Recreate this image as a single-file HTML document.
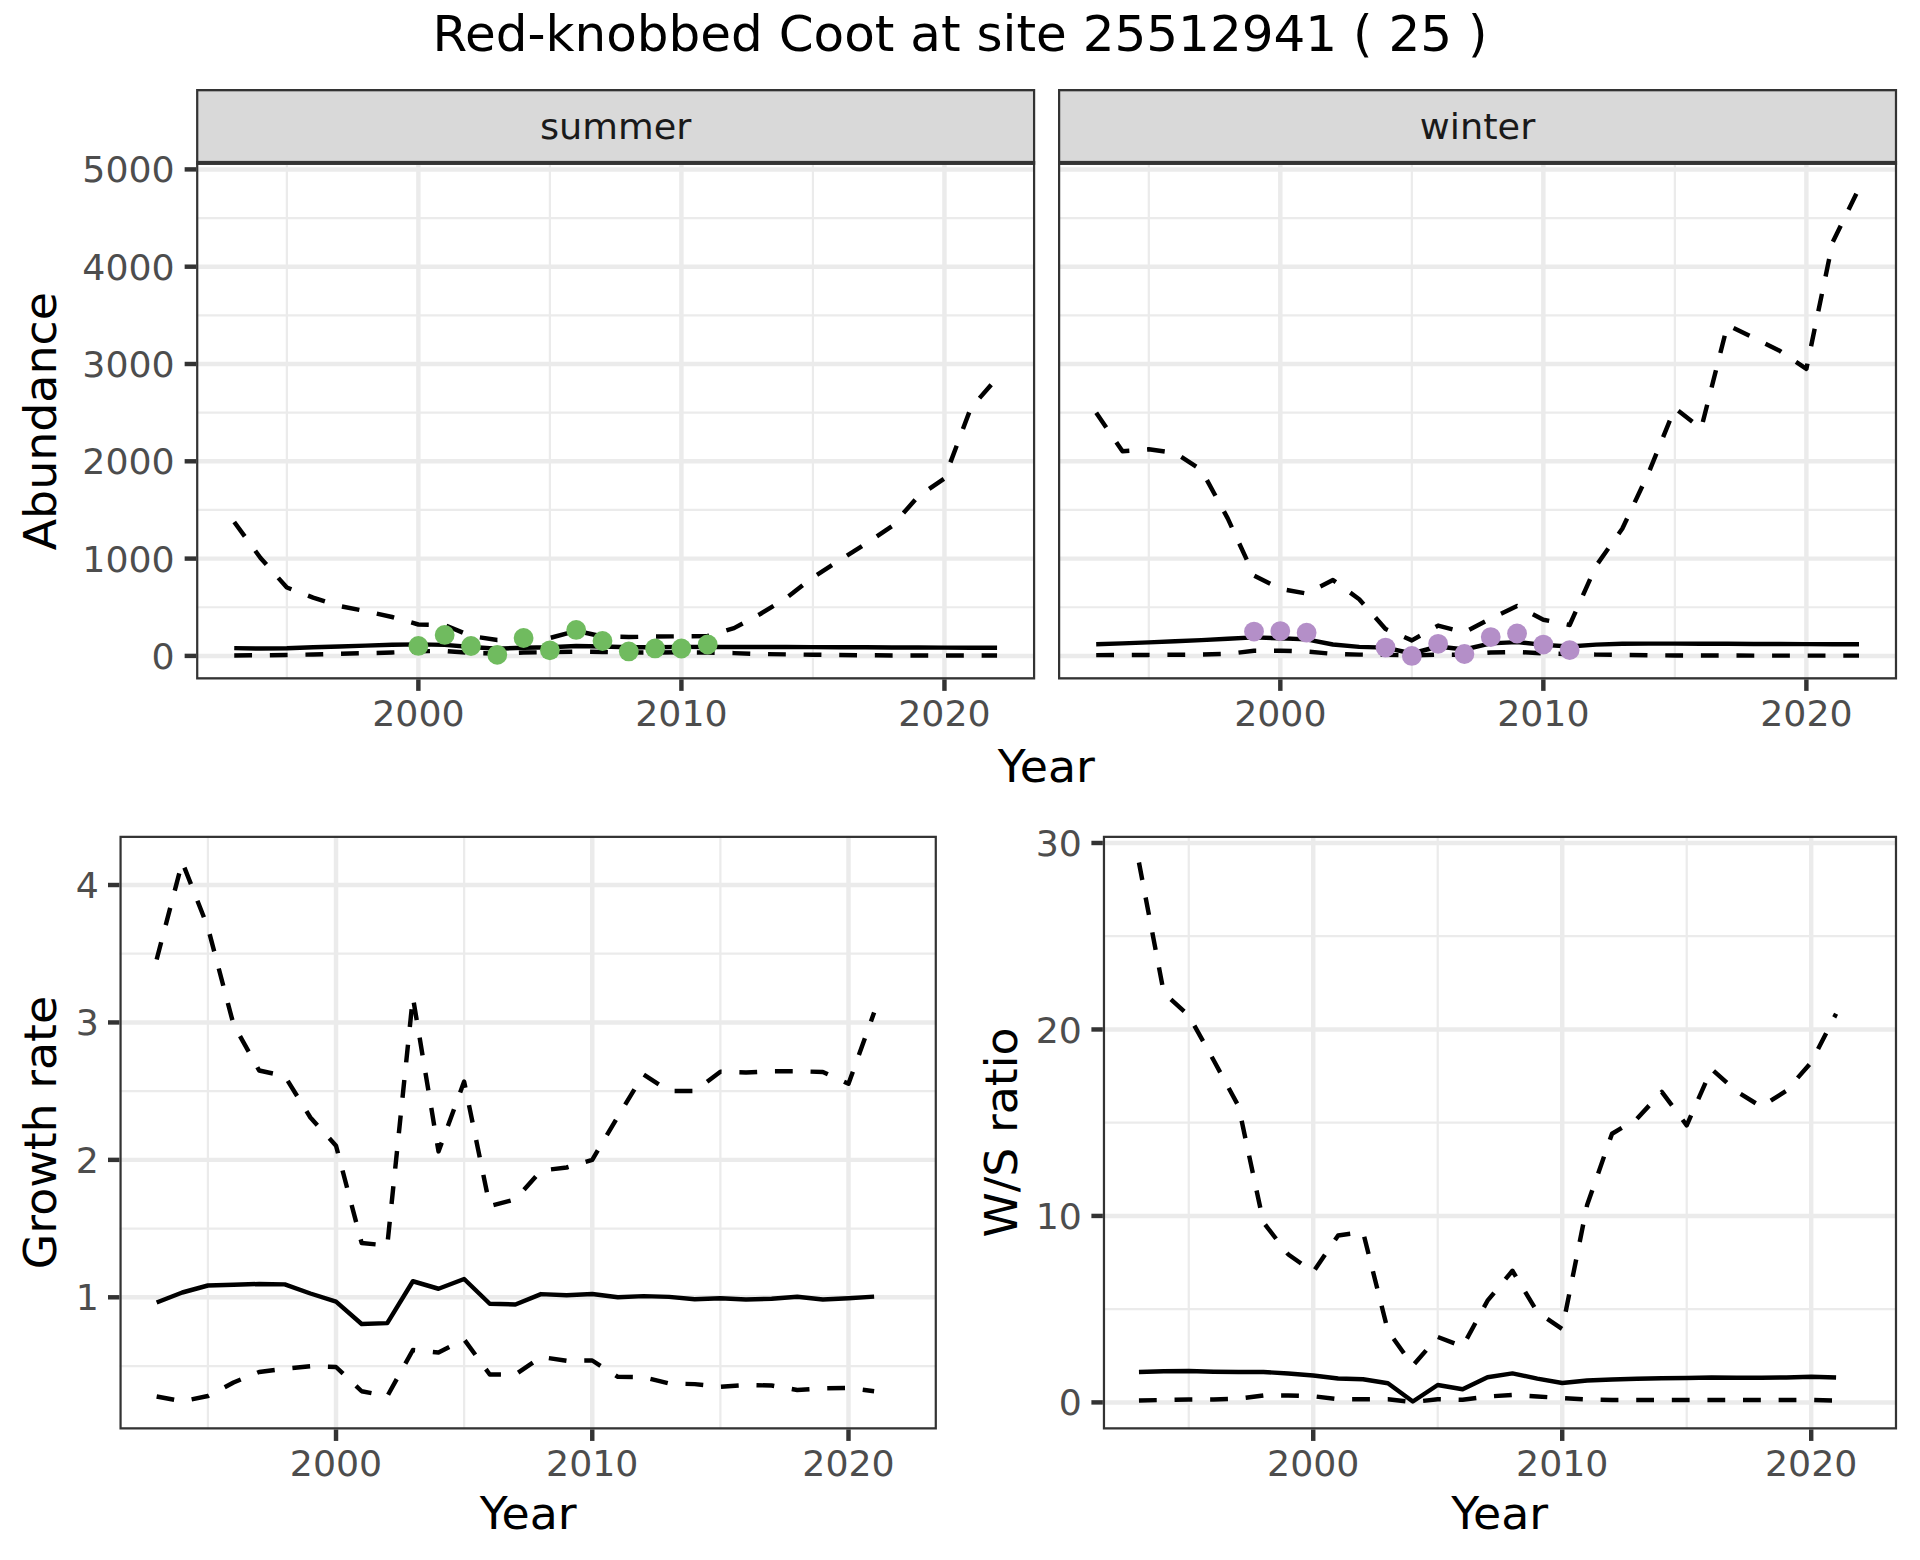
<!DOCTYPE html>
<html lang="en">
<head>
<meta charset="utf-8">
<title>Red-knobbed Coot at site 25512941 ( 25 )</title>
<style>
html,body{margin:0;padding:0;background:#fff;}
body{width:1920px;height:1560px;overflow:hidden;}
svg{display:block;font-family:'DejaVu Sans','Liberation Sans',sans-serif;}
svg text{font-family:'DejaVu Sans','Liberation Sans',sans-serif;}
</style>
</head>
<body>
<svg width="1920" height="1560" viewBox="0 0 1920 1560">
<defs>
<clipPath id="cp1"><rect x="196.1" y="162.8" width="839.1" height="516.6"/></clipPath>
<clipPath id="sp1"><rect x="196.1" y="89.1" width="839.1" height="73.7"/></clipPath>
<clipPath id="cp2"><rect x="1058" y="162.8" width="839.1" height="516.6"/></clipPath>
<clipPath id="sp2"><rect x="1058" y="89.1" width="839.1" height="73.7"/></clipPath>
<clipPath id="cp3"><rect x="119.45" y="835.75" width="817.45" height="593.7"/></clipPath>
<clipPath id="cp4"><rect x="1102.85" y="835.75" width="794.25" height="593.7"/></clipPath>
</defs>
<rect x="0" y="0" width="1920" height="1560" fill="#fff"/>
<g clip-path="url(#cp1)">
<rect x="196.1" y="162.8" width="839.1" height="516.6" fill="#fff"/>
<line x1="196.1" x2="1035.2" y1="607.25" y2="607.25" stroke="#ebebeb" stroke-width="2.22"/>
<line x1="196.1" x2="1035.2" y1="509.95" y2="509.95" stroke="#ebebeb" stroke-width="2.22"/>
<line x1="196.1" x2="1035.2" y1="412.65" y2="412.65" stroke="#ebebeb" stroke-width="2.22"/>
<line x1="196.1" x2="1035.2" y1="315.35" y2="315.35" stroke="#ebebeb" stroke-width="2.22"/>
<line x1="196.1" x2="1035.2" y1="218.05" y2="218.05" stroke="#ebebeb" stroke-width="2.22"/>
<line x1="286.85" x2="286.85" y1="162.8" y2="679.4" stroke="#ebebeb" stroke-width="2.22"/>
<line x1="549.89" x2="549.89" y1="162.8" y2="679.4" stroke="#ebebeb" stroke-width="2.22"/>
<line x1="812.93" x2="812.93" y1="162.8" y2="679.4" stroke="#ebebeb" stroke-width="2.22"/>
<line x1="196.1" x2="1035.2" y1="655.9" y2="655.9" stroke="#ebebeb" stroke-width="4.45"/>
<line x1="196.1" x2="1035.2" y1="558.6" y2="558.6" stroke="#ebebeb" stroke-width="4.45"/>
<line x1="196.1" x2="1035.2" y1="461.3" y2="461.3" stroke="#ebebeb" stroke-width="4.45"/>
<line x1="196.1" x2="1035.2" y1="364" y2="364" stroke="#ebebeb" stroke-width="4.45"/>
<line x1="196.1" x2="1035.2" y1="266.7" y2="266.7" stroke="#ebebeb" stroke-width="4.45"/>
<line x1="196.1" x2="1035.2" y1="169.4" y2="169.4" stroke="#ebebeb" stroke-width="4.45"/>
<line x1="418.37" x2="418.37" y1="162.8" y2="679.4" stroke="#ebebeb" stroke-width="4.45"/>
<line x1="681.41" x2="681.41" y1="162.8" y2="679.4" stroke="#ebebeb" stroke-width="4.45"/>
<line x1="944.45" x2="944.45" y1="162.8" y2="679.4" stroke="#ebebeb" stroke-width="4.45"/>
<polyline points="234.24,648.1 260.54,648.5 286.85,648.25 313.15,647.25 339.46,646.5 365.76,645.6 392.06,644.75 418.37,644.4 444.67,644.9 470.98,647 497.28,648.75 523.58,647.75 549.89,647.25 576.19,646 602.5,646.5 628.8,647.25 655.1,647.25 681.41,646.9 707.71,646.9 734.02,646.9 760.32,646.95 786.62,647 812.93,647.1 839.23,647.2 865.54,647.3 891.84,647.4 918.14,647.5 944.45,647.6 970.75,647.7 997.06,647.8" fill="none" stroke="#000" stroke-width="4.45" stroke-linejoin="round" stroke-linecap="butt"/>
<polyline points="234.24,655.4 260.54,655.3 286.85,655 313.15,654.5 339.46,653.75 365.76,653.2 392.06,652.5 418.37,651.25 444.67,651 470.98,653 497.28,653.5 523.58,652.5 549.89,652.2 576.19,651.6 602.5,652 628.8,652.5 655.1,652.5 681.41,652.3 707.71,652.5 734.02,653.1 760.32,654 786.62,654.4 812.93,654.75 839.23,655 865.54,655.25 891.84,655.4 918.14,655.4 944.45,655.4 970.75,655.4 997.06,655.4" fill="none" stroke="#000" stroke-width="4.45" stroke-linejoin="round" stroke-linecap="butt" stroke-dasharray="17.8 17.8"/>
<polyline points="234.24,522 260.54,558 286.85,587.5 313.15,597.6 339.46,606 365.76,611.2 392.06,617 418.37,624.5 444.67,625 470.98,636 497.28,640 523.58,639 549.89,638 576.19,630.75 602.5,636.5 628.8,637 655.1,636.6 681.41,636.25 707.71,636 734.02,628.1 760.32,614 786.62,597.75 812.93,577.4 839.23,560.6 865.54,543.8 891.84,526.3 918.14,496.4 944.45,478.4 970.75,408.2 997.06,378" fill="none" stroke="#000" stroke-width="4.45" stroke-linejoin="round" stroke-linecap="butt" stroke-dasharray="17.8 17.8"/>
<circle cx="418.37" cy="645.9" r="9.9" fill="#70bb5f"/>
<circle cx="444.67" cy="634.9" r="9.9" fill="#70bb5f"/>
<circle cx="470.98" cy="646" r="9.9" fill="#70bb5f"/>
<circle cx="497.28" cy="654.8" r="9.9" fill="#70bb5f"/>
<circle cx="523.58" cy="638" r="9.9" fill="#70bb5f"/>
<circle cx="549.89" cy="650.3" r="9.9" fill="#70bb5f"/>
<circle cx="576.19" cy="629.9" r="9.9" fill="#70bb5f"/>
<circle cx="602.5" cy="641" r="9.9" fill="#70bb5f"/>
<circle cx="628.8" cy="651.4" r="9.9" fill="#70bb5f"/>
<circle cx="655.1" cy="648.4" r="9.9" fill="#70bb5f"/>
<circle cx="681.41" cy="648.5" r="9.9" fill="#70bb5f"/>
<circle cx="707.71" cy="644.5" r="9.9" fill="#70bb5f"/>
<rect x="196.1" y="162.6" width="839.1" height="516.8" fill="none" stroke="#333333" stroke-width="4.45"/>
</g>
<g clip-path="url(#sp1)"><rect x="196.1" y="89.1" width="839.1" height="74" fill="#d9d9d9" stroke="#333333" stroke-width="4.45"/></g>
<text transform="translate(615.65 139) scale(1 0.975)" text-anchor="middle" font-size="36.67" fill="#1a1a1a">summer</text>
<line x1="196.1" x2="1035.2" y1="162.85" y2="162.85" stroke="#333333" stroke-width="3.9"/>
<line x1="184.64" x2="196.1" y1="655.9" y2="655.9" stroke="#333333" stroke-width="4.45"/>
<text transform="translate(174.67 668.95) scale(0.99 0.96)" text-anchor="end" font-size="36.67" fill="#4d4d4d">0</text>
<line x1="184.64" x2="196.1" y1="558.6" y2="558.6" stroke="#333333" stroke-width="4.45"/>
<text transform="translate(174.67 571.65) scale(0.99 0.96)" text-anchor="end" font-size="36.67" fill="#4d4d4d">1000</text>
<line x1="184.64" x2="196.1" y1="461.3" y2="461.3" stroke="#333333" stroke-width="4.45"/>
<text transform="translate(174.67 474.35) scale(0.99 0.96)" text-anchor="end" font-size="36.67" fill="#4d4d4d">2000</text>
<line x1="184.64" x2="196.1" y1="364" y2="364" stroke="#333333" stroke-width="4.45"/>
<text transform="translate(174.67 377.05) scale(0.99 0.96)" text-anchor="end" font-size="36.67" fill="#4d4d4d">3000</text>
<line x1="184.64" x2="196.1" y1="266.7" y2="266.7" stroke="#333333" stroke-width="4.45"/>
<text transform="translate(174.67 279.75) scale(0.99 0.96)" text-anchor="end" font-size="36.67" fill="#4d4d4d">4000</text>
<line x1="184.64" x2="196.1" y1="169.4" y2="169.4" stroke="#333333" stroke-width="4.45"/>
<text transform="translate(174.67 182.45) scale(0.99 0.96)" text-anchor="end" font-size="36.67" fill="#4d4d4d">5000</text>
<line x1="418.37" x2="418.37" y1="679.4" y2="690.86" stroke="#333333" stroke-width="4.45"/>
<text transform="translate(418.37 726) scale(0.99 0.96)" text-anchor="middle" font-size="36.67" fill="#4d4d4d">2000</text>
<line x1="681.41" x2="681.41" y1="679.4" y2="690.86" stroke="#333333" stroke-width="4.45"/>
<text transform="translate(681.41 726) scale(0.99 0.96)" text-anchor="middle" font-size="36.67" fill="#4d4d4d">2010</text>
<line x1="944.45" x2="944.45" y1="679.4" y2="690.86" stroke="#333333" stroke-width="4.45"/>
<text transform="translate(944.45 726) scale(0.99 0.96)" text-anchor="middle" font-size="36.67" fill="#4d4d4d">2020</text>
<g clip-path="url(#cp2)">
<rect x="1058" y="162.8" width="839.1" height="516.6" fill="#fff"/>
<line x1="1058" x2="1897.1" y1="607.25" y2="607.25" stroke="#ebebeb" stroke-width="2.22"/>
<line x1="1058" x2="1897.1" y1="509.95" y2="509.95" stroke="#ebebeb" stroke-width="2.22"/>
<line x1="1058" x2="1897.1" y1="412.65" y2="412.65" stroke="#ebebeb" stroke-width="2.22"/>
<line x1="1058" x2="1897.1" y1="315.35" y2="315.35" stroke="#ebebeb" stroke-width="2.22"/>
<line x1="1058" x2="1897.1" y1="218.05" y2="218.05" stroke="#ebebeb" stroke-width="2.22"/>
<line x1="1148.81" x2="1148.81" y1="162.8" y2="679.4" stroke="#ebebeb" stroke-width="2.22"/>
<line x1="1411.84" x2="1411.84" y1="162.8" y2="679.4" stroke="#ebebeb" stroke-width="2.22"/>
<line x1="1674.87" x2="1674.87" y1="162.8" y2="679.4" stroke="#ebebeb" stroke-width="2.22"/>
<line x1="1058" x2="1897.1" y1="655.9" y2="655.9" stroke="#ebebeb" stroke-width="4.45"/>
<line x1="1058" x2="1897.1" y1="558.6" y2="558.6" stroke="#ebebeb" stroke-width="4.45"/>
<line x1="1058" x2="1897.1" y1="461.3" y2="461.3" stroke="#ebebeb" stroke-width="4.45"/>
<line x1="1058" x2="1897.1" y1="364" y2="364" stroke="#ebebeb" stroke-width="4.45"/>
<line x1="1058" x2="1897.1" y1="266.7" y2="266.7" stroke="#ebebeb" stroke-width="4.45"/>
<line x1="1058" x2="1897.1" y1="169.4" y2="169.4" stroke="#ebebeb" stroke-width="4.45"/>
<line x1="1280.32" x2="1280.32" y1="162.8" y2="679.4" stroke="#ebebeb" stroke-width="4.45"/>
<line x1="1543.35" x2="1543.35" y1="162.8" y2="679.4" stroke="#ebebeb" stroke-width="4.45"/>
<line x1="1806.38" x2="1806.38" y1="162.8" y2="679.4" stroke="#ebebeb" stroke-width="4.45"/>
<polyline points="1096.2,644.2 1122.5,643.4 1148.81,642.4 1175.11,641.3 1201.41,640.1 1227.72,638.7 1254.02,637.4 1280.32,638.3 1306.62,639.4 1332.93,644.5 1359.23,646.9 1385.53,647.6 1411.84,653.5 1438.14,646.5 1464.44,649.5 1490.75,643.4 1517.05,642.1 1543.35,644.9 1569.65,646.5 1595.96,644.6 1622.26,643.8 1648.56,643.6 1674.87,643.6 1701.17,643.7 1727.47,643.8 1753.78,643.9 1780.08,644 1806.38,644.1 1832.68,644.2 1858.99,644.2" fill="none" stroke="#000" stroke-width="4.45" stroke-linejoin="round" stroke-linecap="butt"/>
<polyline points="1096.2,655.1 1122.5,655 1148.81,654.9 1175.11,654.8 1201.41,654.6 1227.72,653.9 1254.02,650.7 1280.32,650.7 1306.62,651.5 1332.93,653.9 1359.23,654.6 1385.53,654.8 1411.84,655.5 1438.14,654.6 1464.44,654.8 1490.75,652.5 1517.05,652 1543.35,653.3 1569.65,654.2 1595.96,654.6 1622.26,654.9 1648.56,655.3 1674.87,655.4 1701.17,655.5 1727.47,655.5 1753.78,655.6 1780.08,655.6 1806.38,655.6 1832.68,655.6 1858.99,655.6" fill="none" stroke="#000" stroke-width="4.45" stroke-linejoin="round" stroke-linecap="butt" stroke-dasharray="17.8 17.8"/>
<polyline points="1096.2,412.8 1122.5,451.2 1148.81,449.3 1175.11,452.9 1201.41,469.9 1227.72,518.4 1254.02,575.5 1280.32,588.8 1306.62,593.5 1332.93,580 1359.23,599.2 1385.53,629 1411.84,640.4 1438.14,625.6 1464.44,632.4 1490.75,618.5 1517.05,606 1543.35,619.7 1569.65,625 1595.96,566 1622.26,528.8 1648.56,473 1674.87,408.2 1701.17,428.5 1727.47,325 1753.78,337.8 1780.08,351.1 1806.38,368.8 1832.68,242.1 1858.99,188.3" fill="none" stroke="#000" stroke-width="4.45" stroke-linejoin="round" stroke-linecap="butt" stroke-dasharray="17.8 17.8"/>
<circle cx="1254.02" cy="631.6" r="9.9" fill="#b48fc8"/>
<circle cx="1280.32" cy="631.1" r="9.9" fill="#b48fc8"/>
<circle cx="1306.62" cy="632.7" r="9.9" fill="#b48fc8"/>
<circle cx="1385.53" cy="647.6" r="9.9" fill="#b48fc8"/>
<circle cx="1411.84" cy="655.9" r="9.9" fill="#b48fc8"/>
<circle cx="1438.14" cy="643.8" r="9.9" fill="#b48fc8"/>
<circle cx="1464.44" cy="654" r="9.9" fill="#b48fc8"/>
<circle cx="1490.75" cy="637.1" r="9.9" fill="#b48fc8"/>
<circle cx="1517.05" cy="633.5" r="9.9" fill="#b48fc8"/>
<circle cx="1543.35" cy="644.6" r="9.9" fill="#b48fc8"/>
<circle cx="1569.65" cy="650.1" r="9.9" fill="#b48fc8"/>
<rect x="1058" y="162.6" width="839.1" height="516.8" fill="none" stroke="#333333" stroke-width="4.45"/>
</g>
<g clip-path="url(#sp2)"><rect x="1058" y="89.1" width="839.1" height="74" fill="#d9d9d9" stroke="#333333" stroke-width="4.45"/></g>
<text transform="translate(1477.55 139) scale(1 0.975)" text-anchor="middle" font-size="36.67" fill="#1a1a1a">winter</text>
<line x1="1058" x2="1897.1" y1="162.85" y2="162.85" stroke="#333333" stroke-width="3.9"/>
<line x1="1280.32" x2="1280.32" y1="679.4" y2="690.86" stroke="#333333" stroke-width="4.45"/>
<text transform="translate(1280.32 726) scale(0.99 0.96)" text-anchor="middle" font-size="36.67" fill="#4d4d4d">2000</text>
<line x1="1543.35" x2="1543.35" y1="679.4" y2="690.86" stroke="#333333" stroke-width="4.45"/>
<text transform="translate(1543.35 726) scale(0.99 0.96)" text-anchor="middle" font-size="36.67" fill="#4d4d4d">2010</text>
<line x1="1806.38" x2="1806.38" y1="679.4" y2="690.86" stroke="#333333" stroke-width="4.45"/>
<text transform="translate(1806.38 726) scale(0.99 0.96)" text-anchor="middle" font-size="36.67" fill="#4d4d4d">2020</text>
<text transform="translate(960 50.6) scale(1 1)" text-anchor="middle" font-size="50.0" fill="#000">Red-knobbed Coot at site 25512941 ( 25 )</text>
<text transform="translate(1046.35 782.1) scale(1 0.985)" text-anchor="middle" font-size="45.83" fill="#000">Year</text>
<text transform="translate(528.2 1528.75) scale(1 0.985)" text-anchor="middle" font-size="45.83" fill="#000">Year</text>
<text transform="translate(1499.65 1528.75) scale(1 0.985)" text-anchor="middle" font-size="45.83" fill="#000">Year</text>
<text transform="translate(56 421.2) rotate(-90) scale(1 0.985)" text-anchor="middle" font-size="45.83" fill="#000">Abundance</text>
<text transform="translate(56 1132.45) rotate(-90) scale(1 0.985)" text-anchor="middle" font-size="45.83" fill="#000">Growth rate</text>
<text transform="translate(1017 1132.45) rotate(-90) scale(1 0.985)" text-anchor="middle" font-size="45.83" fill="#000">W/S ratio</text>
<g clip-path="url(#cp3)">
<rect x="119.45" y="835.75" width="817.45" height="593.7" fill="#fff"/>
<line x1="119.45" x2="936.9" y1="1366.02" y2="1366.02" stroke="#ebebeb" stroke-width="2.22"/>
<line x1="119.45" x2="936.9" y1="1228.59" y2="1228.59" stroke="#ebebeb" stroke-width="2.22"/>
<line x1="119.45" x2="936.9" y1="1091.15" y2="1091.15" stroke="#ebebeb" stroke-width="2.22"/>
<line x1="119.45" x2="936.9" y1="953.73" y2="953.73" stroke="#ebebeb" stroke-width="2.22"/>
<line x1="207.9" x2="207.9" y1="835.75" y2="1429.45" stroke="#ebebeb" stroke-width="2.22"/>
<line x1="464.14" x2="464.14" y1="835.75" y2="1429.45" stroke="#ebebeb" stroke-width="2.22"/>
<line x1="720.38" x2="720.38" y1="835.75" y2="1429.45" stroke="#ebebeb" stroke-width="2.22"/>
<line x1="119.45" x2="936.9" y1="1297.3" y2="1297.3" stroke="#ebebeb" stroke-width="4.45"/>
<line x1="119.45" x2="936.9" y1="1159.87" y2="1159.87" stroke="#ebebeb" stroke-width="4.45"/>
<line x1="119.45" x2="936.9" y1="1022.44" y2="1022.44" stroke="#ebebeb" stroke-width="4.45"/>
<line x1="119.45" x2="936.9" y1="885.01" y2="885.01" stroke="#ebebeb" stroke-width="4.45"/>
<line x1="336.02" x2="336.02" y1="835.75" y2="1429.45" stroke="#ebebeb" stroke-width="4.45"/>
<line x1="592.26" x2="592.26" y1="835.75" y2="1429.45" stroke="#ebebeb" stroke-width="4.45"/>
<line x1="848.5" x2="848.5" y1="835.75" y2="1429.45" stroke="#ebebeb" stroke-width="4.45"/>
<polyline points="156.65,1302.5 182.27,1292.5 207.9,1285.5 233.52,1284.75 259.15,1284 284.77,1284.4 310.39,1293.5 336.02,1301.6 361.64,1324 387.27,1323.1 412.89,1281.25 438.51,1288.75 464.14,1279 489.76,1303.75 515.39,1304.5 541.01,1294.1 566.63,1295.25 592.26,1294 617.88,1297.25 643.51,1296.1 669.13,1296.9 694.75,1299.25 720.38,1298.25 746,1299.5 771.63,1298.75 797.25,1296.75 822.87,1299.5 848.5,1298.25 874.12,1296.6" fill="none" stroke="#000" stroke-width="4.45" stroke-linejoin="round" stroke-linecap="butt"/>
<polyline points="156.65,1396.5 182.27,1401.3 207.9,1396 233.52,1382.5 259.15,1372 284.77,1368.75 310.39,1366.25 336.02,1367 361.64,1391.25 387.27,1396.25 412.89,1350 438.51,1352.5 464.14,1339.5 489.76,1374.5 515.39,1374.5 541.01,1357 566.63,1360.75 592.26,1360.5 617.88,1376.9 643.51,1377.2 669.13,1383.5 694.75,1384.1 720.38,1386.75 746,1385 771.63,1385.5 797.25,1390 822.87,1388.25 848.5,1388 874.12,1391.25" fill="none" stroke="#000" stroke-width="4.45" stroke-linejoin="round" stroke-linecap="butt" stroke-dasharray="17.8 17.8"/>
<polyline points="156.65,959.5 182.27,862 207.9,927.5 233.52,1024.5 259.15,1070.5 284.77,1076.1 310.39,1117.5 336.02,1145.75 361.64,1243 387.27,1245.5 412.89,997.1 438.51,1151.4 464.14,1081.6 489.76,1206 515.39,1199.3 541.01,1170.6 566.63,1167.5 592.26,1159.8 617.88,1116.5 643.51,1074.5 669.13,1091 694.75,1091 720.38,1071.75 746,1072.5 771.63,1071.25 797.25,1071.25 822.87,1072 848.5,1083.75 874.12,1012.5" fill="none" stroke="#000" stroke-width="4.45" stroke-linejoin="round" stroke-linecap="butt" stroke-dasharray="17.8 17.8"/>
<rect x="119.45" y="835.75" width="817.45" height="593.7" fill="none" stroke="#333333" stroke-width="4.45"/>
</g>
<line x1="107.99" x2="119.45" y1="1297.3" y2="1297.3" stroke="#333333" stroke-width="4.45"/>
<text transform="translate(98.87 1310.35) scale(0.99 0.96)" text-anchor="end" font-size="36.67" fill="#4d4d4d">1</text>
<line x1="107.99" x2="119.45" y1="1159.87" y2="1159.87" stroke="#333333" stroke-width="4.45"/>
<text transform="translate(98.87 1172.92) scale(0.99 0.96)" text-anchor="end" font-size="36.67" fill="#4d4d4d">2</text>
<line x1="107.99" x2="119.45" y1="1022.44" y2="1022.44" stroke="#333333" stroke-width="4.45"/>
<text transform="translate(98.87 1035.49) scale(0.99 0.96)" text-anchor="end" font-size="36.67" fill="#4d4d4d">3</text>
<line x1="107.99" x2="119.45" y1="885.01" y2="885.01" stroke="#333333" stroke-width="4.45"/>
<text transform="translate(98.87 898.06) scale(0.99 0.96)" text-anchor="end" font-size="36.67" fill="#4d4d4d">4</text>
<line x1="336.02" x2="336.02" y1="1429.45" y2="1440.91" stroke="#333333" stroke-width="4.45"/>
<text transform="translate(336.02 1476.2) scale(0.99 0.96)" text-anchor="middle" font-size="36.67" fill="#4d4d4d">2000</text>
<line x1="592.26" x2="592.26" y1="1429.45" y2="1440.91" stroke="#333333" stroke-width="4.45"/>
<text transform="translate(592.26 1476.2) scale(0.99 0.96)" text-anchor="middle" font-size="36.67" fill="#4d4d4d">2010</text>
<line x1="848.5" x2="848.5" y1="1429.45" y2="1440.91" stroke="#333333" stroke-width="4.45"/>
<text transform="translate(848.5 1476.2) scale(0.99 0.96)" text-anchor="middle" font-size="36.67" fill="#4d4d4d">2020</text>
<g clip-path="url(#cp4)">
<rect x="1102.85" y="835.75" width="794.25" height="593.7" fill="#fff"/>
<line x1="1102.85" x2="1897.1" y1="1309.17" y2="1309.17" stroke="#ebebeb" stroke-width="2.22"/>
<line x1="1102.85" x2="1897.1" y1="1122.7" y2="1122.7" stroke="#ebebeb" stroke-width="2.22"/>
<line x1="1102.85" x2="1897.1" y1="936.23" y2="936.23" stroke="#ebebeb" stroke-width="2.22"/>
<line x1="1188.75" x2="1188.75" y1="835.75" y2="1429.45" stroke="#ebebeb" stroke-width="2.22"/>
<line x1="1437.73" x2="1437.73" y1="835.75" y2="1429.45" stroke="#ebebeb" stroke-width="2.22"/>
<line x1="1686.71" x2="1686.71" y1="835.75" y2="1429.45" stroke="#ebebeb" stroke-width="2.22"/>
<line x1="1102.85" x2="1897.1" y1="1402.4" y2="1402.4" stroke="#ebebeb" stroke-width="4.45"/>
<line x1="1102.85" x2="1897.1" y1="1215.93" y2="1215.93" stroke="#ebebeb" stroke-width="4.45"/>
<line x1="1102.85" x2="1897.1" y1="1029.46" y2="1029.46" stroke="#ebebeb" stroke-width="4.45"/>
<line x1="1102.85" x2="1897.1" y1="842.99" y2="842.99" stroke="#ebebeb" stroke-width="4.45"/>
<line x1="1313.24" x2="1313.24" y1="835.75" y2="1429.45" stroke="#ebebeb" stroke-width="4.45"/>
<line x1="1562.22" x2="1562.22" y1="835.75" y2="1429.45" stroke="#ebebeb" stroke-width="4.45"/>
<line x1="1811.2" x2="1811.2" y1="835.75" y2="1429.45" stroke="#ebebeb" stroke-width="4.45"/>
<polyline points="1138.95,1372 1163.85,1371.25 1188.75,1371 1213.64,1371.75 1238.54,1372 1263.44,1372 1288.34,1373.5 1313.24,1375.5 1338.13,1378.5 1363.03,1379.25 1387.93,1383.25 1412.83,1401.5 1437.73,1385 1462.62,1389.2 1487.52,1377.2 1512.42,1373.4 1537.32,1378.6 1562.22,1383 1587.11,1380.5 1612.01,1379.5 1636.91,1378.75 1661.81,1378.25 1686.71,1378 1711.6,1377.5 1736.5,1377.75 1761.4,1377.75 1786.3,1377.5 1811.2,1376.75 1836.09,1377.5" fill="none" stroke="#000" stroke-width="4.45" stroke-linejoin="round" stroke-linecap="butt"/>
<polyline points="1138.95,1400.5 1163.85,1400 1188.75,1399.5 1213.64,1399.5 1238.54,1398.75 1263.44,1395.5 1288.34,1395.5 1313.24,1396.25 1338.13,1399.25 1363.03,1399.25 1387.93,1399.25 1412.83,1402 1437.73,1399.25 1462.62,1399.75 1487.52,1396.5 1512.42,1395 1537.32,1396.5 1562.22,1398.1 1587.11,1399.5 1612.01,1400 1636.91,1400 1661.81,1400 1686.71,1400 1711.6,1400 1736.5,1400 1761.4,1400 1786.3,1400 1811.2,1400 1836.09,1400.5" fill="none" stroke="#000" stroke-width="4.45" stroke-linejoin="round" stroke-linecap="butt" stroke-dasharray="17.8 17.8"/>
<polyline points="1138.95,862.5 1163.85,993 1188.75,1015.5 1213.64,1060.25 1238.54,1106.25 1263.44,1222.5 1288.34,1254.5 1313.24,1272 1338.13,1235.5 1363.03,1232 1387.93,1330.9 1412.83,1365.7 1437.73,1337 1462.62,1346.6 1487.52,1300.7 1512.42,1270.75 1537.32,1312 1562.22,1329 1587.11,1205 1612.01,1133.75 1636.91,1118.75 1661.81,1091.9 1686.71,1125.3 1711.6,1069 1736.5,1091.4 1761.4,1106.75 1786.3,1090.75 1811.2,1062.5 1836.09,1013.75" fill="none" stroke="#000" stroke-width="4.45" stroke-linejoin="round" stroke-linecap="butt" stroke-dasharray="17.8 17.8"/>
<rect x="1102.85" y="835.75" width="794.25" height="593.7" fill="none" stroke="#333333" stroke-width="4.45"/>
</g>
<line x1="1091.39" x2="1102.85" y1="1402.4" y2="1402.4" stroke="#333333" stroke-width="4.45"/>
<text transform="translate(1081.87 1415.45) scale(0.99 0.96)" text-anchor="end" font-size="36.67" fill="#4d4d4d">0</text>
<line x1="1091.39" x2="1102.85" y1="1215.93" y2="1215.93" stroke="#333333" stroke-width="4.45"/>
<text transform="translate(1081.87 1228.98) scale(0.99 0.96)" text-anchor="end" font-size="36.67" fill="#4d4d4d">10</text>
<line x1="1091.39" x2="1102.85" y1="1029.46" y2="1029.46" stroke="#333333" stroke-width="4.45"/>
<text transform="translate(1081.87 1042.51) scale(0.99 0.96)" text-anchor="end" font-size="36.67" fill="#4d4d4d">20</text>
<line x1="1091.39" x2="1102.85" y1="842.99" y2="842.99" stroke="#333333" stroke-width="4.45"/>
<text transform="translate(1081.87 856.04) scale(0.99 0.96)" text-anchor="end" font-size="36.67" fill="#4d4d4d">30</text>
<line x1="1313.24" x2="1313.24" y1="1429.45" y2="1440.91" stroke="#333333" stroke-width="4.45"/>
<text transform="translate(1313.24 1476.2) scale(0.99 0.96)" text-anchor="middle" font-size="36.67" fill="#4d4d4d">2000</text>
<line x1="1562.22" x2="1562.22" y1="1429.45" y2="1440.91" stroke="#333333" stroke-width="4.45"/>
<text transform="translate(1562.22 1476.2) scale(0.99 0.96)" text-anchor="middle" font-size="36.67" fill="#4d4d4d">2010</text>
<line x1="1811.2" x2="1811.2" y1="1429.45" y2="1440.91" stroke="#333333" stroke-width="4.45"/>
<text transform="translate(1811.2 1476.2) scale(0.99 0.96)" text-anchor="middle" font-size="36.67" fill="#4d4d4d">2020</text>
</svg>
</body>
</html>
